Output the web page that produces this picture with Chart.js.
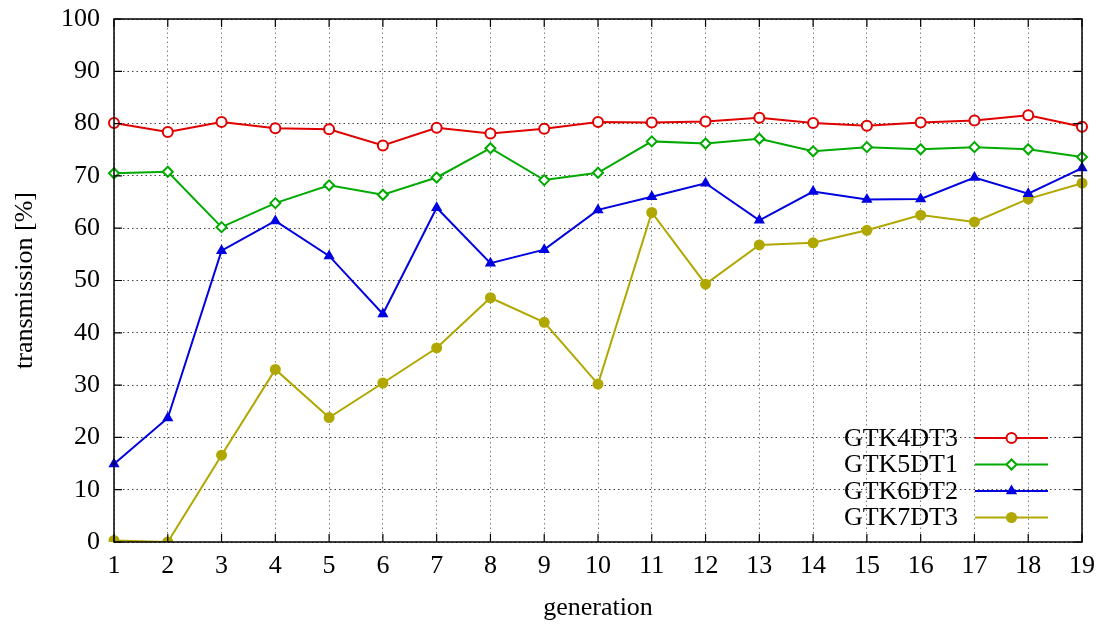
<!DOCTYPE html>
<html>
<head>
<meta charset="utf-8">
<script src="https://cdn.jsdelivr.net/npm/chart.js@4"></script>
<style>
  html, body { margin: 0; padding: 0; background: #fff; }
  canvas { display: block; }
</style>
</head>
<body>
<canvas id="myChart" width="1097" height="624"></canvas>
<script>
const generations = ['1','2','3','4','5','6','7','8','9','10','11','12','13','14','15','16','17','18','19'];
const yTicks = [0, 10, 20, 30, 40, 50, 60, 70, 80, 90, 100];

const gtk4dt3 = [80.1, 78.4, 80.3, 79.1, 78.9, 75.8, 79.2, 78.1, 79.0, 80.3, 80.2, 80.4, 81.1, 80.1, 79.6, 80.2, 80.6, 81.6, 79.4];
const gtk5dt1 = [70.5, 70.8, 60.2, 64.8, 68.2, 66.4, 69.7, 75.3, 69.2, 70.6, 76.6, 76.2, 77.1, 74.7, 75.5, 75.1, 75.5, 75.1, 73.6];
const gtk6dt2 = [14.9, 23.7, 55.7, 61.4, 54.7, 43.6, 63.9, 53.3, 55.9, 63.5, 66.0, 68.6, 61.5, 67.0, 65.5, 65.6, 69.7, 66.6, 71.5];
const gtk7dt3 = [0.3, 0.0, 16.6, 33.0, 23.8, 30.4, 37.1, 46.7, 42.0, 30.2, 63.0, 49.3, 56.8, 57.2, 59.6, 62.5, 61.2, 65.6, 68.6];

const FONT = "'Liberation Serif', 'DejaVu Serif', serif";

function series(label, values, color, style, radius, filled) {
    return {
        label: label,
        data: values,
        borderColor: color,
        backgroundColor: filled ? color : '#fff',
        pointBackgroundColor: filled ? color : '#fff',
        pointBorderColor: color,
        pointStyle: style,
        pointRadius: radius,
        pointBorderWidth: 2,
        borderWidth: 2,
        tension: 0
    };
}

// frame, inward ticks and the key inside the plot
const framePlugin = {
    id: 'frame',
    afterDraw(chart) {
        const ctx = chart.ctx;
        const a = chart.chartArea;
        const xs = chart.scales.x;
        const ys = chart.scales.y;
        ctx.save();
        ctx.strokeStyle = '#000';
        ctx.lineWidth = 1.5;
        ctx.strokeRect(a.left, a.top, a.right - a.left, a.bottom - a.top);
        ctx.lineWidth = 1.2;
        ctx.beginPath();
        yTicks.forEach((v) => {
            const y = ys.getPixelForValue(v);
            ctx.moveTo(a.left, y); ctx.lineTo(a.left + 8, y);
            ctx.moveTo(a.right, y); ctx.lineTo(a.right - 8, y);
        });
        generations.forEach((g, i) => {
            const x = xs.getPixelForValue(i);
            ctx.moveTo(x, a.bottom); ctx.lineTo(x, a.bottom - 8);
            ctx.moveTo(x, a.top); ctx.lineTo(x, a.top + 8);
        });
        ctx.stroke();

        // key
        const textRight = a.right - 124;
        const lineL = a.right - 107;
        const lineR = a.right - 34;
        let y = a.bottom - 104;
        ctx.font = '26px ' + FONT;
        ctx.textAlign = 'right';
        ctx.textBaseline = 'middle';
        chart.data.datasets.forEach((ds) => {
            ctx.fillStyle = '#000';
            ctx.fillText(ds.label, textRight, y + 1);
            ctx.strokeStyle = ds.borderColor;
            ctx.lineWidth = 2;
            ctx.beginPath();
            ctx.moveTo(lineL, y); ctx.lineTo(lineR, y);
            ctx.stroke();
            ctx.fillStyle = ds.pointBackgroundColor;
            Chart.helpers.drawPoint(ctx, {
                pointStyle: ds.pointStyle,
                radius: ds.pointRadius,
                rotation: 0,
                borderWidth: 2
            }, (lineL + lineR) / 2, y);
            y += 26.5;
        });
        ctx.restore();
    }
};

const config = {
    type: 'line',
    data: {
        labels: generations,
        datasets: [
            series('GTK4DT3', gtk4dt3, '#e00000', 'circle', 5, false),
            series('GTK5DT1', gtk5dt1, '#00aa00', 'rectRot', 5, false),
            series('GTK6DT2', gtk6dt2, '#0000e0', 'triangle', 4.5, true),
            series('GTK7DT3', gtk7dt3, '#b0a800', 'circle', 4.5, true)
        ]
    },
    options: {
        responsive: false,
        animation: false,
        layout: { padding: { top: 19, right: 15, left: 0, bottom: 0 } },
        plugins: {
            legend: { display: false },
            tooltip: { enabled: false }
        },
        scales: {
            x: {
                type: 'category',
                offset: false,
                afterFit(scale) {
                    scale.height = 82;
                    scale.paddingLeft = 0;
                    scale.paddingRight = 0;
                },
                grid: { color: 'rgba(0,0,0,0.5)', lineWidth: 1, drawTicks: false },
                border: { display: false, dash: [1.5, 3] },
                ticks: {
                    color: '#000',
                    padding: 9,
                    maxRotation: 0,
                    autoSkip: false,
                    font: { family: FONT, size: 26 }
                },
                title: {
                    display: true,
                    text: 'generation',
                    color: '#000',
                    padding: { top: 8, bottom: 0 },
                    font: { family: FONT, size: 26 }
                }
            },
            y: {
                min: 0,
                max: 100,
                afterFit(scale) {
                    scale.width = 114;
                    scale.paddingTop = 0;
                    scale.paddingBottom = 0;
                },
                grid: { color: 'rgba(0,0,0,0.75)', lineWidth: 1, drawTicks: false },
                border: { display: false, dash: [1.5, 3] },
                ticks: {
                    stepSize: 10,
                    color: '#000',
                    padding: 14,
                    font: { family: FONT, size: 26 }
                },
                title: {
                    display: true,
                    text: 'transmission [%]',
                    color: '#000',
                    padding: { top: 10, bottom: 0 },
                    font: { family: FONT, size: 26 }
                }
            }
        }
    },
    plugins: [framePlugin]
};

const myChart = new Chart(document.getElementById('myChart'), config);
</script>
</body>
</html>
